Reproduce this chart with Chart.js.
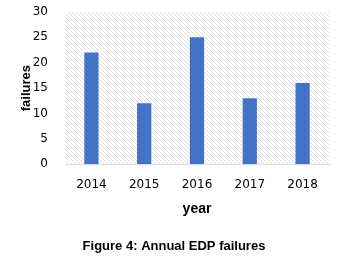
<!DOCTYPE html>
<html>
<head>
<meta charset="utf-8">
<script src="https://cdn.jsdelivr.net/npm/chart.js@4"></script>
<style>
  body { margin: 0; background: #fff; }
  #wrap { width: 353px; height: 256px; }
</style>
</head>
<body>
<div id="wrap"><canvas id="grafico"></canvas></div>
<script>
const anos = ["2014", "2015", "2016", "2017", "2018"];
const falhas = [22, 12, 25, 13, 16];
const yTicks = [0, 5, 10, 15, 20, 25, 30];

// diagonal hatch behind the plot area
const hachura = {
    id: "hachura",
    beforeDatasetsDraw(chart) {
        const a = chart.chartArea;
        const p = document.createElement("canvas");
        p.width = 4; p.height = 4;
        const pc = p.getContext("2d");
        pc.fillStyle = "#ffffff";
        pc.fillRect(0, 0, 4, 4);
        pc.fillStyle = "#dfdfdf";
        for (let i = 0; i < 4; i++) pc.fillRect(i, i, 1, 1);
        const ctx = chart.ctx;
        ctx.save();
        ctx.fillStyle = ctx.createPattern(p, "repeat");
        ctx.fillRect(a.left, a.top, a.right - a.left, a.bottom - a.top);
        ctx.restore();
    }
};

const ctx = document.getElementById("grafico").getContext("2d");
new Chart(ctx, {
    type: "bar",
    data: {
        labels: anos,
        datasets: [{
            label: "failures",
            data: falhas,
            backgroundColor: "#4472c4",
            categoryPercentage: 1,
            barPercentage: 0.27
        }]
    },
    options: {
        responsive: true,
        maintainAspectRatio: false,
        animation: false,
        layout: { padding: { left: 19, right: 24, top: 12, bottom: 2 } },
        plugins: {
            legend: { display: false },
            tooltip: { enabled: false },
            title: {
                display: true,
                position: "bottom",
                text: "Figure 4: Annual EDP failures",
                color: "#000",
                font: { family: "Liberation Sans", size: 13, weight: "bold" },
                padding: { top: 21, bottom: 0 }
            }
        },
        scales: {
            y: {
                min: 0,
                max: 30,
                afterBuildTicks: axis => { axis.ticks = yTicks.map(v => ({ value: v })); },
                afterFit: axis => {
                    axis.width = 46;
                    axis.paddingTop = 0;
                    axis.paddingBottom = 0;
                },
                grid: { display: false },
                border: { display: false },
                ticks: { color: "#000", padding: 9, font: { family: "DejaVu Sans", size: 12 } },
                title: {
                    display: true,
                    text: "failures",
                    color: "#000",
                    padding: { top: 0, bottom: 0 },
                    font: { family: "Liberation Sans", size: 13, weight: "bold" }
                }
            },
            x: {
                grid: { display: false },
                border: { display: true, color: "#d9d9d9", width: 1 },
                ticks: { color: "#000", padding: 5, font: { family: "DejaVu Sans", size: 12 } },
                title: {
                    display: true,
                    text: "year",
                    color: "#000",
                    padding: { top: 4, bottom: 0 },
                    font: { family: "Liberation Sans", size: 14, weight: "bold" }
                }
            }
        }
    },
    plugins: [hachura]
});
</script>
</body>
</html>
